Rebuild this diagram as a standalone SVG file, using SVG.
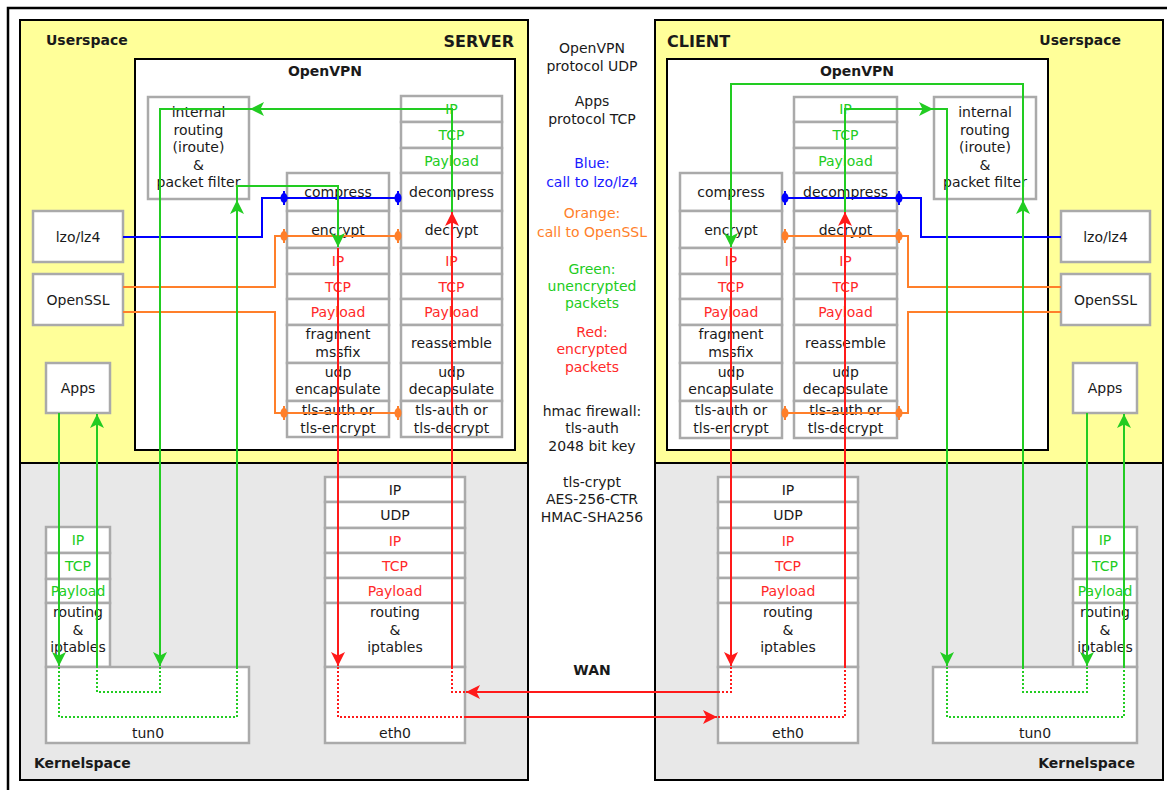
<svg xmlns="http://www.w3.org/2000/svg" width="1167" height="790" viewBox="0 0 1167 790">
<style>
.box{fill:#fff;stroke:#aaa;stroke-width:2.5}
.pan{stroke:#000;stroke-width:2}
.t{font-family:"DejaVu Sans","Liberation Sans",sans-serif;font-size:14px;fill:#1a1a1a;text-anchor:middle}
.bl{font-weight:bold}
.st{text-anchor:start}
.en{text-anchor:end}
.big{font-size:16px}
.tg{fill:#22cc22}
.tr{fill:#ff2a2a}
.tb{fill:#1a1aff}
.to{fill:#ff7f2a}
.g{fill:none;stroke:#22cc22;stroke-width:2}
.r{fill:none;stroke:#ff1a1a;stroke-width:2}
.bu{fill:none;stroke:#0000ff;stroke-width:2}
.or{fill:none;stroke:#ff7f2a;stroke-width:2}
.dot{stroke-dasharray:2,2}
</style>
<defs>
<marker id="ag" viewBox="-14 -7 15 14" refX="0" refY="0" markerWidth="15" markerHeight="14" markerUnits="userSpaceOnUse" orient="auto"><path d="M0,0 L-14,-7 L-10.5,0 L-14,7 Z" fill="#22cc22"/></marker>
<marker id="ar" viewBox="-14 -7 15 14" refX="0" refY="0" markerWidth="15" markerHeight="14" markerUnits="userSpaceOnUse" orient="auto"><path d="M0,0 L-14,-7 L-10.5,0 L-14,7 Z" fill="#ff1a1a"/></marker>
<g id="db"><ellipse rx="3.5" ry="5" fill="#0000ff"/><path d="M0,-7 V7" stroke="#0000ff" stroke-width="2"/></g>
<g id="do"><ellipse rx="3.5" ry="5" fill="#ff7f2a"/><path d="M0,-7 V7" stroke="#ff7f2a" stroke-width="2"/></g>
</defs>
<rect x="0" y="0" width="1167" height="790" fill="#fff"/>
<rect x="8" y="8" width="1200" height="800" fill="none" stroke="#000" stroke-width="2.5"/>

<g id="server-panel">
<rect x="20" y="20" width="508" height="443" fill="#ffff99" class="pan"/>
<rect x="20" y="463" width="508" height="317" fill="#e8e8e8" class="pan"/>
<text class="t bl st" x="46" y="45">Userspace</text>
<text class="t bl en big" x="514" y="47">SERVER</text>
<text class="t bl st" x="34" y="768">Kernelspace</text>
</g>
<g id="client-panel">
<rect x="655" y="20" width="508" height="443" fill="#ffff99" class="pan"/>
<rect x="655" y="463" width="508" height="317" fill="#e8e8e8" class="pan"/>
<text class="t bl st big" x="667" y="47">CLIENT</text>
<text class="t bl en" x="1121" y="45">Userspace</text>
<text class="t bl en" x="1135" y="768">Kernelspace</text>
</g>

<g id="legend">
<text class="t" x="592" y="53">OpenVPN</text>
<text class="t" x="592" y="71">protocol UDP</text>
<text class="t" x="592" y="106">Apps</text>
<text class="t" x="592" y="124">protocol TCP</text>
<text class="t tb" x="592" y="168">Blue:</text>
<text class="t tb" x="592" y="187">call to lzo/lz4</text>
<text class="t to" x="592" y="218">Orange:</text>
<text class="t to" x="592" y="237">call to OpenSSL</text>
<text class="t tg" x="592" y="274">Green:</text>
<text class="t tg" x="592" y="291">unencrypted</text>
<text class="t tg" x="592" y="308">packets</text>
<text class="t tr" x="592" y="337">Red:</text>
<text class="t tr" x="592" y="354">encrypted</text>
<text class="t tr" x="592" y="372">packets</text>
<text class="t" x="592" y="416">hmac firewall:</text>
<text class="t" x="592" y="433">tls-auth</text>
<text class="t" x="592" y="451">2048 bit key</text>
<text class="t" x="592" y="487">tls-crypt</text>
<text class="t" x="592" y="504">AES-256-CTR</text>
<text class="t" x="592" y="522">HMAC-SHA256</text>
<text class="t bl" x="592" y="675">WAN</text>
</g>

<!-- SERVER -->
<g id="server-openvpn">
<rect x="135" y="59" width="380" height="391" fill="#fff" stroke="#000" stroke-width="2"/>
<text class="t bl" x="325" y="76">OpenVPN</text>
</g>
<g id="server-iroute">
<rect class="box" x="148" y="97" width="101" height="102"/>
<text class="t" x="198.5" y="117">internal</text>
<text class="t" x="198.5" y="134.5">routing</text>
<text class="t" x="198.5" y="152">(iroute)</text>
<text class="t" x="198.5" y="169.5">&amp;</text>
<text class="t" x="198.5" y="187">packet filter</text>
</g>
<g id="server-send-stack">
<rect class="box" x="287" y="173" width="102" height="38"/><text class="t" x="338" y="197">compress</text>
<rect class="box" x="287" y="211" width="102" height="37"/><text class="t" x="338" y="234.5">encrypt</text>
<rect class="box" x="287" y="248" width="102" height="26"/><text class="t tr" x="338" y="266">IP</text>
<rect class="box" x="287" y="274" width="102" height="25"/><text class="t tr" x="338" y="291.5">TCP</text>
<rect class="box" x="287" y="299" width="102" height="26"/><text class="t tr" x="338" y="317">Payload</text>
<rect class="box" x="287" y="325" width="102" height="38"/><text class="t" x="338" y="339">fragment</text><text class="t" x="338" y="357">mssfix</text>
<rect class="box" x="287" y="363" width="102" height="38"/><text class="t" x="338" y="377">udp</text><text class="t" x="338" y="394">encapsulate</text>
<rect class="box" x="287" y="401" width="102" height="36"/><text class="t" x="338" y="415">tls-auth or</text><text class="t" x="338" y="433">tls-encrypt</text>
</g>
<g id="server-recv-stack">
<rect class="box" x="401" y="96" width="101" height="26"/><text class="t tg" x="451.5" y="114">IP</text>
<rect class="box" x="401" y="122" width="101" height="26"/><text class="t tg" x="451.5" y="140">TCP</text>
<rect class="box" x="401" y="148" width="101" height="25"/><text class="t tg" x="451.5" y="165.5">Payload</text>
<rect class="box" x="401" y="173" width="101" height="38"/><text class="t" x="451.5" y="197">decompress</text>
<rect class="box" x="401" y="211" width="101" height="37"/><text class="t" x="451.5" y="234.5">decrypt</text>
<rect class="box" x="401" y="248" width="101" height="26"/><text class="t tr" x="451.5" y="266">IP</text>
<rect class="box" x="401" y="274" width="101" height="25"/><text class="t tr" x="451.5" y="291.5">TCP</text>
<rect class="box" x="401" y="299" width="101" height="26"/><text class="t tr" x="451.5" y="317">Payload</text>
<rect class="box" x="401" y="325" width="101" height="38"/><text class="t" x="451.5" y="348">reassemble</text>
<rect class="box" x="401" y="363" width="101" height="38"/><text class="t" x="451.5" y="377">udp</text><text class="t" x="451.5" y="394">decapsulate</text>
<rect class="box" x="401" y="401" width="101" height="36"/><text class="t" x="451.5" y="415">tls-auth or</text><text class="t" x="451.5" y="433">tls-decrypt</text>
</g>
<g id="server-lzo"><rect class="box" x="33" y="211" width="90" height="51"/><text class="t" x="78" y="242">lzo/lz4</text></g>
<g id="server-openssl"><rect class="box" x="33" y="274" width="90" height="51"/><text class="t" x="78" y="305">OpenSSL</text></g>
<g id="server-apps"><rect class="box" x="46" y="363" width="64" height="50"/><text class="t" x="78" y="393">Apps</text></g>
<g id="server-kernel-stack">
<rect class="box" x="46" y="527" width="64" height="26"/><text class="t tg" x="78" y="545">IP</text>
<rect class="box" x="46" y="553" width="64" height="26"/><text class="t tg" x="78" y="571">TCP</text>
<rect class="box" x="46" y="579" width="64" height="24"/><text class="t tg" x="78" y="596">Payload</text>
<rect class="box" x="46" y="603" width="64" height="64"/><text class="t" x="78" y="617">routing</text><text class="t" x="78" y="634.5">&amp;</text><text class="t" x="78" y="652">iptables</text>
</g>
<g id="server-tun0"><rect class="box" x="46" y="667" width="203" height="76"/><text class="t" x="148" y="738">tun0</text></g>
<g id="server-eth-stack">
<rect class="box" x="325" y="477" width="140" height="25"/><text class="t" x="395" y="494.5">IP</text>
<rect class="box" x="325" y="502" width="140" height="26"/><text class="t" x="395" y="520">UDP</text>
<rect class="box" x="325" y="528" width="140" height="25"/><text class="t tr" x="395" y="545.5">IP</text>
<rect class="box" x="325" y="553" width="140" height="25"/><text class="t tr" x="395" y="570.5">TCP</text>
<rect class="box" x="325" y="578" width="140" height="25"/><text class="t tr" x="395" y="595.5">Payload</text>
<rect class="box" x="325" y="603" width="140" height="64"/><text class="t" x="395" y="617">routing</text><text class="t" x="395" y="634.5">&amp;</text><text class="t" x="395" y="652">iptables</text>
</g>
<g id="server-eth0"><rect class="box" x="325" y="667" width="140" height="76"/><text class="t" x="395" y="738">eth0</text></g>

<!-- CLIENT -->
<g id="client-openvpn">
<rect x="667" y="59" width="381" height="391" fill="#fff" stroke="#000" stroke-width="2"/>
<text class="t bl" x="857" y="76">OpenVPN</text>
</g>
<g id="client-iroute">
<rect class="box" x="934" y="97" width="102" height="102"/>
<text class="t" x="985" y="117">internal</text>
<text class="t" x="985" y="134.5">routing</text>
<text class="t" x="985" y="152">(iroute)</text>
<text class="t" x="985" y="169.5">&amp;</text>
<text class="t" x="985" y="187">packet filter</text>
</g>
<g id="client-send-stack">
<rect class="box" x="680" y="173" width="102" height="38"/><text class="t" x="731" y="197">compress</text>
<rect class="box" x="680" y="211" width="102" height="37"/><text class="t" x="731" y="234.5">encrypt</text>
<rect class="box" x="680" y="248" width="102" height="26"/><text class="t tr" x="731" y="266">IP</text>
<rect class="box" x="680" y="274" width="102" height="25"/><text class="t tr" x="731" y="291.5">TCP</text>
<rect class="box" x="680" y="299" width="102" height="26"/><text class="t tr" x="731" y="317">Payload</text>
<rect class="box" x="680" y="325" width="102" height="38"/><text class="t" x="731" y="339">fragment</text><text class="t" x="731" y="357">mssfix</text>
<rect class="box" x="680" y="363" width="102" height="38"/><text class="t" x="731" y="377">udp</text><text class="t" x="731" y="394">encapsulate</text>
<rect class="box" x="680" y="401" width="102" height="37"/><text class="t" x="731" y="415">tls-auth or</text><text class="t" x="731" y="433">tls-encrypt</text>
</g>
<g id="client-recv-stack">
<rect class="box" x="794" y="97" width="103" height="25"/><text class="t tg" x="845.5" y="114">IP</text>
<rect class="box" x="794" y="122" width="103" height="26"/><text class="t tg" x="845.5" y="140">TCP</text>
<rect class="box" x="794" y="148" width="103" height="25"/><text class="t tg" x="845.5" y="165.5">Payload</text>
<rect class="box" x="794" y="173" width="103" height="38"/><text class="t" x="845.5" y="197">decompress</text>
<rect class="box" x="794" y="211" width="103" height="37"/><text class="t" x="845.5" y="234.5">decrypt</text>
<rect class="box" x="794" y="248" width="103" height="26"/><text class="t tr" x="845.5" y="266">IP</text>
<rect class="box" x="794" y="274" width="103" height="25"/><text class="t tr" x="845.5" y="291.5">TCP</text>
<rect class="box" x="794" y="299" width="103" height="26"/><text class="t tr" x="845.5" y="317">Payload</text>
<rect class="box" x="794" y="325" width="103" height="38"/><text class="t" x="845.5" y="348">reassemble</text>
<rect class="box" x="794" y="363" width="103" height="38"/><text class="t" x="845.5" y="377">udp</text><text class="t" x="845.5" y="394">decapsulate</text>
<rect class="box" x="794" y="401" width="103" height="37"/><text class="t" x="845.5" y="415">tls-auth or</text><text class="t" x="845.5" y="433">tls-decrypt</text>
</g>
<g id="client-lzo"><rect class="box" x="1061" y="211" width="89" height="51"/><text class="t" x="1105.5" y="242">lzo/lz4</text></g>
<g id="client-openssl"><rect class="box" x="1061" y="274" width="89" height="51"/><text class="t" x="1105.5" y="305">OpenSSL</text></g>
<g id="client-apps"><rect class="box" x="1073" y="363" width="64" height="50"/><text class="t" x="1105" y="393">Apps</text></g>
<g id="client-kernel-stack">
<rect class="box" x="1073" y="527" width="64" height="26"/><text class="t tg" x="1105" y="545">IP</text>
<rect class="box" x="1073" y="553" width="64" height="26"/><text class="t tg" x="1105" y="571">TCP</text>
<rect class="box" x="1073" y="579" width="64" height="24"/><text class="t tg" x="1105" y="596">Payload</text>
<rect class="box" x="1073" y="603" width="64" height="64"/><text class="t" x="1105" y="617">routing</text><text class="t" x="1105" y="634.5">&amp;</text><text class="t" x="1105" y="652">iptables</text>
</g>
<g id="client-tun0"><rect class="box" x="933" y="667" width="204" height="76"/><text class="t" x="1035" y="738">tun0</text></g>
<g id="client-eth-stack">
<rect class="box" x="718" y="477" width="140" height="25"/><text class="t" x="788" y="494.5">IP</text>
<rect class="box" x="718" y="502" width="140" height="26"/><text class="t" x="788" y="520">UDP</text>
<rect class="box" x="718" y="528" width="140" height="25"/><text class="t tr" x="788" y="545.5">IP</text>
<rect class="box" x="718" y="553" width="140" height="25"/><text class="t tr" x="788" y="570.5">TCP</text>
<rect class="box" x="718" y="578" width="140" height="25"/><text class="t tr" x="788" y="595.5">Payload</text>
<rect class="box" x="718" y="603" width="140" height="64"/><text class="t" x="788" y="617">routing</text><text class="t" x="788" y="634.5">&amp;</text><text class="t" x="788" y="652">iptables</text>
</g>
<g id="client-eth0"><rect class="box" x="718" y="667" width="140" height="76"/><text class="t" x="788" y="738">eth0</text></g>

<g id="connectors">
<path class="bu" d="M123,237 H262 V198 H398"/>
<path class="or" d="M123,287 H275 V236 H398"/>
<path class="or" d="M123,312 H275 V413 H398"/>
<path class="bu" d="M1061,237 H921 V198 H785"/>
<path class="or" d="M1061,287 H908 V236 H785"/>
<path class="or" d="M1061,312 H908 V413 H785"/>
<use href="#db" x="284" y="198"/><use href="#db" x="398" y="198"/>
<use href="#do" x="284" y="236"/><use href="#do" x="398" y="236"/>
<use href="#do" x="284" y="413"/><use href="#do" x="398" y="413"/>
<use href="#db" x="785" y="198"/><use href="#db" x="899" y="198"/>
<use href="#do" x="785" y="236"/><use href="#do" x="899" y="236"/>
<use href="#do" x="785" y="413"/><use href="#do" x="899" y="413"/>

<path class="g" d="M59,413 V666" marker-end="url(#ag)"/>
<path class="g dot" d="M59,667 V717 H237 V667"/>
<path class="g" d="M237,667 V200" marker-end="url(#ag)"/>
<path class="g" d="M237,200 V186 H338 V247" marker-end="url(#ag)"/>
<path class="g" d="M452,212 V109 H250" marker-end="url(#ag)"/>
<path class="g" d="M250,109 H160 V666" marker-end="url(#ag)"/>
<path class="g dot" d="M160,667 V692 H97 V667"/>
<path class="g" d="M97,667 V414" marker-end="url(#ag)"/>

<path class="g" d="M1087,413 V666" marker-end="url(#ag)"/>
<path class="g dot" d="M1087,667 V692 H1023 V667"/>
<path class="g" d="M1023,667 V200" marker-end="url(#ag)"/>
<path class="g" d="M1023,200 V84 H731 V247" marker-end="url(#ag)"/>
<path class="g" d="M845,212 V109 H933" marker-end="url(#ag)"/>
<path class="g" d="M933,109 H947 V666" marker-end="url(#ag)"/>
<path class="g dot" d="M947,667 V717 H1124 V667"/>
<path class="g" d="M1124,667 V414" marker-end="url(#ag)"/>

<path class="r" d="M338,248 V666" marker-end="url(#ar)"/>
<path class="r dot" d="M338,667 V717 H465"/>
<path class="r" d="M465,717 H717" marker-end="url(#ar)"/>
<path class="r dot" d="M718,717 H845 V667"/>
<path class="r" d="M845,667 V212" marker-end="url(#ar)"/>
<path class="r" d="M731,248 V666" marker-end="url(#ar)"/>
<path class="r dot" d="M731,667 V692 H718"/>
<path class="r" d="M718,692 H466" marker-end="url(#ar)"/>
<path class="r dot" d="M465,692 H452 V667"/>
<path class="r" d="M452,667 V212" marker-end="url(#ar)"/>
</g>
</svg>
